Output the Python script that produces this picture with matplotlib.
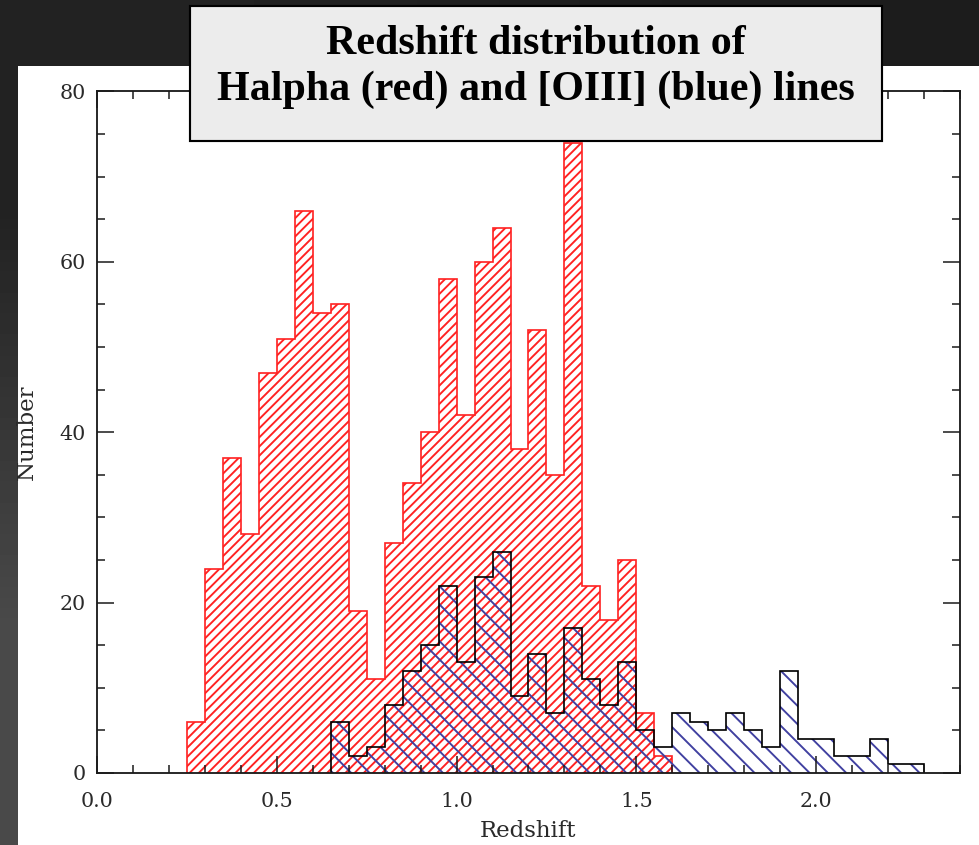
import matplotlib
matplotlib.use("Agg")
import matplotlib.pyplot as plt
import numpy as np
from matplotlib.patches import Rectangle
from matplotlib.ticker import MultipleLocator

RED, BLUE, INK = "#ff2222", "#4040a0", "#1a1a1a"
W, H, DPI = 980, 845, 110
BIN = 0.05

# counts per 0.05 redshift bin
halpha_start = 0.25
halpha_counts = [6, 24, 37, 28, 47, 51, 66, 54, 55, 19, 11, 27, 34, 40, 58,
                 42, 60, 64, 38, 52, 35, 74, 22, 18, 25, 7, 2]
oiii_start = 0.65
oiii_counts = [6, 2, 3, 8, 12, 15, 22, 13, 23, 26, 9, 14, 7, 17, 11, 8, 13,
               5, 3, 7, 6, 5, 7, 5, 3, 12, 4, 4, 2, 2, 4, 1, 1]
x_ticks = [0.0, 0.5, 1.0, 1.5, 2.0]
y_ticks = [0, 20, 40, 60, 80]
title = "Redshift distribution of\nHalpha (red) and [OIII] (blue) lines"


def bin_edges(start, counts):
    return np.round(start + BIN * np.arange(len(counts) + 1), 2)


plt.rcParams["hatch.linewidth"] = 1.25

fig = plt.figure(figsize=(W / DPI, H / DPI), dpi=DPI)

# dark slide backdrop with the white chart panel on it
bg = fig.add_axes([0, 0, 1, 1], zorder=-10)
shade = np.array([[0x22, 0x1c], [0x4a, 0x2a]]) / 255
bg.imshow(shade, cmap="gray", vmin=0, vmax=1, extent=(0, W, H, 0),
          interpolation="bilinear", aspect="auto")
bg.add_patch(Rectangle((18, 66), W - 18, H - 66, facecolor="white", lw=0))
bg.set_xlim(0, W)
bg.set_ylim(H, 0)
bg.axis("off")

ax = fig.add_axes([97 / W, (H - 773) / H, (960 - 97) / W, (773 - 91.5) / H])

ha_edges = bin_edges(halpha_start, halpha_counts)
o3_edges = bin_edges(oiii_start, oiii_counts)

ax.stairs(halpha_counts, ha_edges, baseline=0, fill=True, facecolor="none",
          edgecolor=RED, hatch="////", linewidth=0)
ax.stairs(halpha_counts, ha_edges, baseline=0, color=RED, linewidth=1.1)
ax.stairs(oiii_counts, o3_edges, baseline=0, fill=True, facecolor="none",
          edgecolor=BLUE, hatch="\\\\", linewidth=0)
ax.stairs(oiii_counts, o3_edges, baseline=0, color="black", linewidth=1.1)

ax.set_xlim(0, 2.4)
ax.set_ylim(0, 80)
ax.set_xticks(x_ticks)
ax.set_xticklabels([f"{t:.1f}" for t in x_ticks])
ax.set_yticks(y_ticks)
ax.xaxis.set_minor_locator(MultipleLocator(0.1))
ax.yaxis.set_minor_locator(MultipleLocator(5))
ax.tick_params(which="both", direction="in", top=True, right=True,
               color=INK, width=1.0, labelcolor="#2a2a2a", labelsize=13.5)
ax.tick_params(which="major", length=11)
ax.tick_params(which="minor", length=5.2)
ax.tick_params(axis="x", pad=12.5)
ax.tick_params(axis="y", pad=7.5)
for lab in ax.get_xticklabels() + ax.get_yticklabels():
    lab.set_family("DejaVu Serif")
for spine in ax.spines.values():
    spine.set_linewidth(1.2)
    spine.set_color(INK)

ax.set_xlabel("Redshift", family="DejaVu Serif", fontsize=15, color="#2a2a2a")
ax.set_ylabel("Number", family="DejaVu Serif", fontsize=15, color="#2a2a2a")
ax.xaxis.set_label_coords(0.5, -0.069)
ax.yaxis.set_label_coords(-0.068, 0.5)

# title panel overlapping the top of the plot
fig.add_artist(Rectangle((190 / W, 1 - 141 / H), (882 - 190) / W, (141 - 6) / H,
                         transform=fig.transFigure, facecolor="#ececec",
                         edgecolor="black", linewidth=1.4, zorder=5))
fig.text(536 / W, 1 - 67 / H, title, ha="center", va="center",
         family="Liberation Serif", fontweight="bold", fontsize=27.5,
         linespacing=1.28, color="black", zorder=6)

fig.savefig("out.png", dpi=DPI)
